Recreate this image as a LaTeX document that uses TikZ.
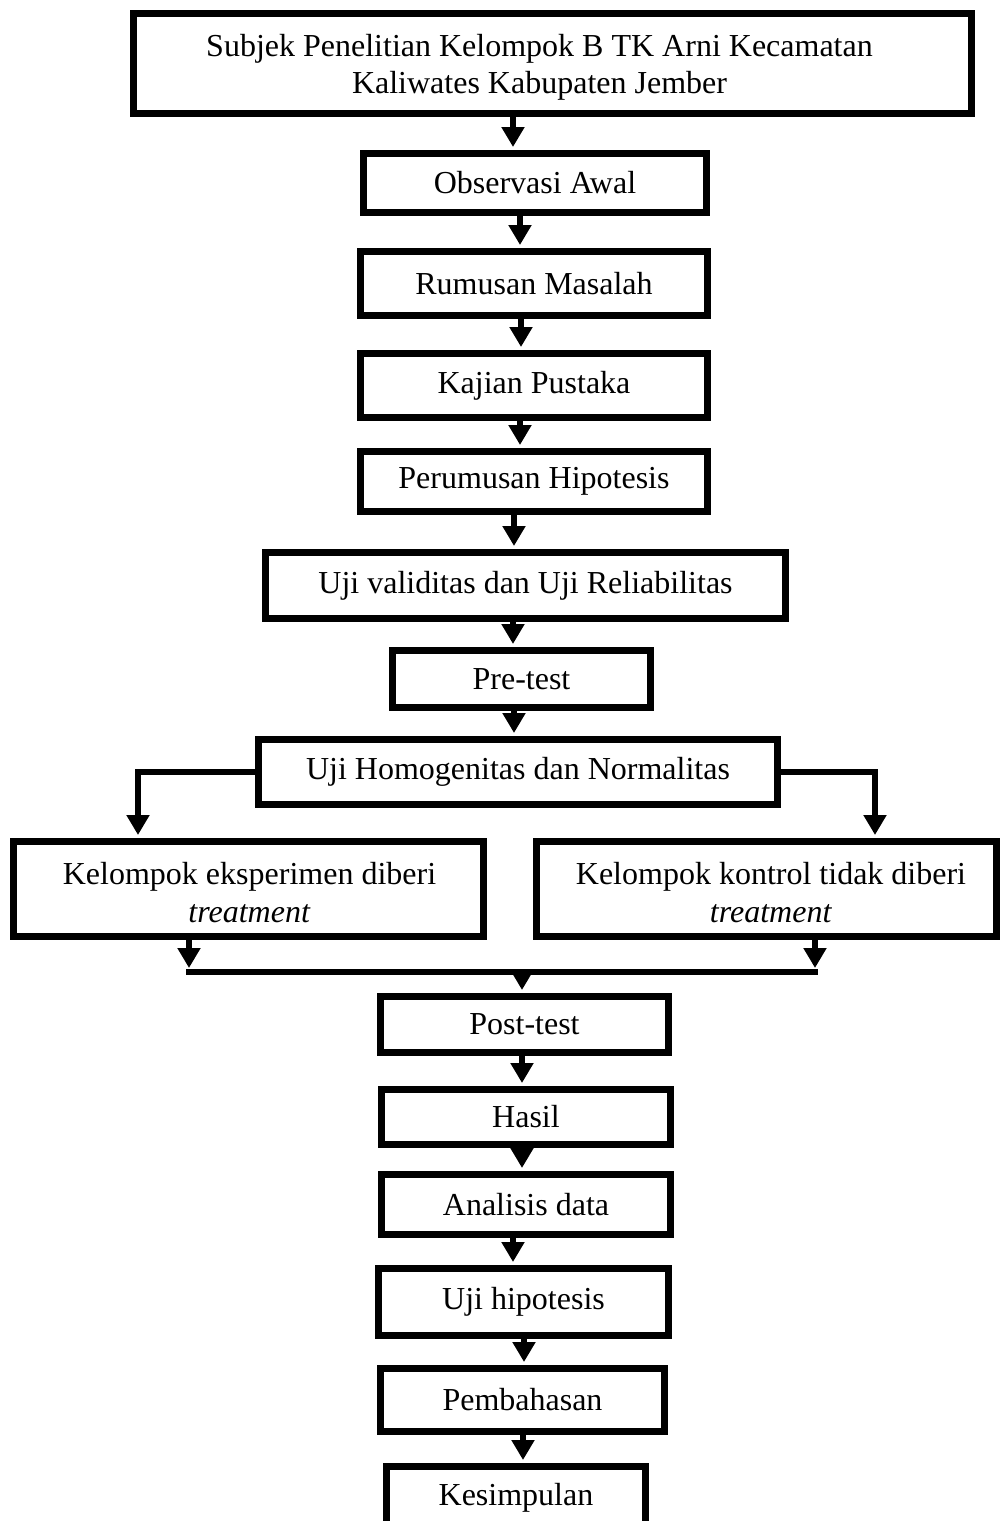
\documentclass[tikz,border=0pt]{standalone}
\usepackage{fontspec}
\setmainfont{Liberation Serif}
\usetikzlibrary{arrows.meta}
\begin{document}
\begin{tikzpicture}[x=0.5pt,y=-0.5pt,
  box/.style={draw=black, line width=3.5pt, fill=white, inner sep=0pt, align=center,
    font=\fontsize{16}{18.5}\selectfont},
  lbl/.style={inner sep=0pt, align=center, font=\fontsize{16}{18.5}\selectfont},
  arr/.style={line width=3pt, -{Triangle[width=11pt,length=10pt]}, shorten >=1.5pt},
  ln/.style={line width=3pt}]
\useasboundingbox[fill=white] (0,0) rectangle (1000,1521);
\node[box, minimum width=419pt, minimum height=50pt] (b1) at (552.5,63.5) {};
\node[lbl] (t1) at (539.5,67) {Subjek Penelitian Kelompok B TK Arni Kecamatan\\Kaliwates Kabupaten Jember};
\node[box, minimum width=171.5pt, minimum height=29.5pt] (b2) at (535,183) {Observasi Awal};
\node[box, minimum width=173.5pt, minimum height=32pt] (b3) at (534,283.5) {Rumusan Masalah};
\node[box, minimum width=173.5pt, minimum height=32pt] (b4) at (534,385.5) {Kajian Pustaka};
\node[box, minimum width=173.5pt, minimum height=30pt] (b5) at (534,481.5) {Perumusan Hipotesis};
\node[box, minimum width=260pt, minimum height=33pt] (b6) at (525.5,585.5) {Uji validitas dan Uji Reliabilitas};
\node[box, minimum width=129pt, minimum height=28.5pt] (b7) at (521.5,679) {Pre-test};
\node[box, minimum width=259.5pt, minimum height=32.5pt] (b8) at (518,772) {Uji Homogenitas dan Normalitas};
\node[box, minimum width=235pt, minimum height=47.5pt] (b9) at (248.5,889) {};
\node[lbl, font=\fontsize{16}{19}\selectfont] (t9) at (249.5,893) {Kelompok eksperimen diberi\\\textit{treatment}};
\node[box, minimum width=230pt, minimum height=47.5pt] (b10) at (766.5,889) {};
\node[lbl, font=\fontsize{16}{19}\selectfont] (t10) at (771,893) {Kelompok kontrol tidak diberi\\\textit{treatment}};
\node[box, minimum width=144pt, minimum height=28pt] (b11) at (524.5,1024.5) {Post-test};
\node[box, minimum width=144.5pt, minimum height=27.5pt] (b12) at (526,1117) {Hasil};
\node[box, minimum width=144.5pt, minimum height=30pt] (b13) at (526,1204.5) {Analisis data};
\node[box, minimum width=145pt, minimum height=33.5pt] (b14) at (523.5,1302) {Uji hipotesis};
\node[box, minimum width=142pt, minimum height=31.5pt] (b15) at (522.5,1400) {Pembahasan};
\node[box, minimum width=129.5pt, minimum height=31pt] (b16) at (516,1497.5) {Kesimpulan};
% arrow columns
\coordinate (x1) at (513,0);
\coordinate (x2) at (520,0);
\coordinate (x3) at (521,0);
\coordinate (x4) at (520,0);
\coordinate (x5) at (514,0);
\coordinate (x6) at (513,0);
\coordinate (x7) at (514,0);
\coordinate (x11) at (522,0);
\coordinate (x12) at (522,0);
\coordinate (x13) at (513,0);
\coordinate (x14) at (524,0);
\coordinate (x15) at (523,0);
\draw[arr] (b1.south -| x1) -- (b2.north -| x1);
\draw[arr] (b2.south -| x2) -- (b3.north -| x2);
\draw[arr] (b3.south -| x3) -- (b4.north -| x3);
\draw[arr] (b4.south -| x4) -- (b5.north -| x4);
\draw[arr] (b5.south -| x5) -- (b6.north -| x5);
\draw[arr] (b6.south -| x6) -- (b7.north -| x6);
\draw[arr] (b7.south -| x7) -- (b8.north -| x7);
\draw[arr] (b11.south -| x11) -- (b12.north -| x11);
\draw[arr] (b12.south -| x12) -- (b13.north -| x12);
\draw[arr] (b13.south -| x13) -- (b14.north -| x13);
\draw[arr] (b14.south -| x14) -- (b15.north -| x14);
\draw[arr] (b15.south -| x15) -- (b16.north -| x15);
% split
\coordinate (L) at (138,772);
\coordinate (R) at (875,772);
\draw[arr] (b8.west) -- (L) -- (L |- b9.north);
\draw[arr] (b8.east) -- (R) -- (R |- b10.north);
% merge
\coordinate (ML) at (189,972);
\coordinate (MR) at (815,972);
\coordinate (MC) at (522,972);
\draw[ln, line cap=rect] (ML) -- (MR);
\draw[arr, shorten >=2pt] (b9.south -| ML) -- (ML);
\draw[arr, shorten >=2pt] (b10.south -| MR) -- (MR);
\draw[arr] (MC) -- (MC |- b11.north);
\end{tikzpicture}
\end{document}
